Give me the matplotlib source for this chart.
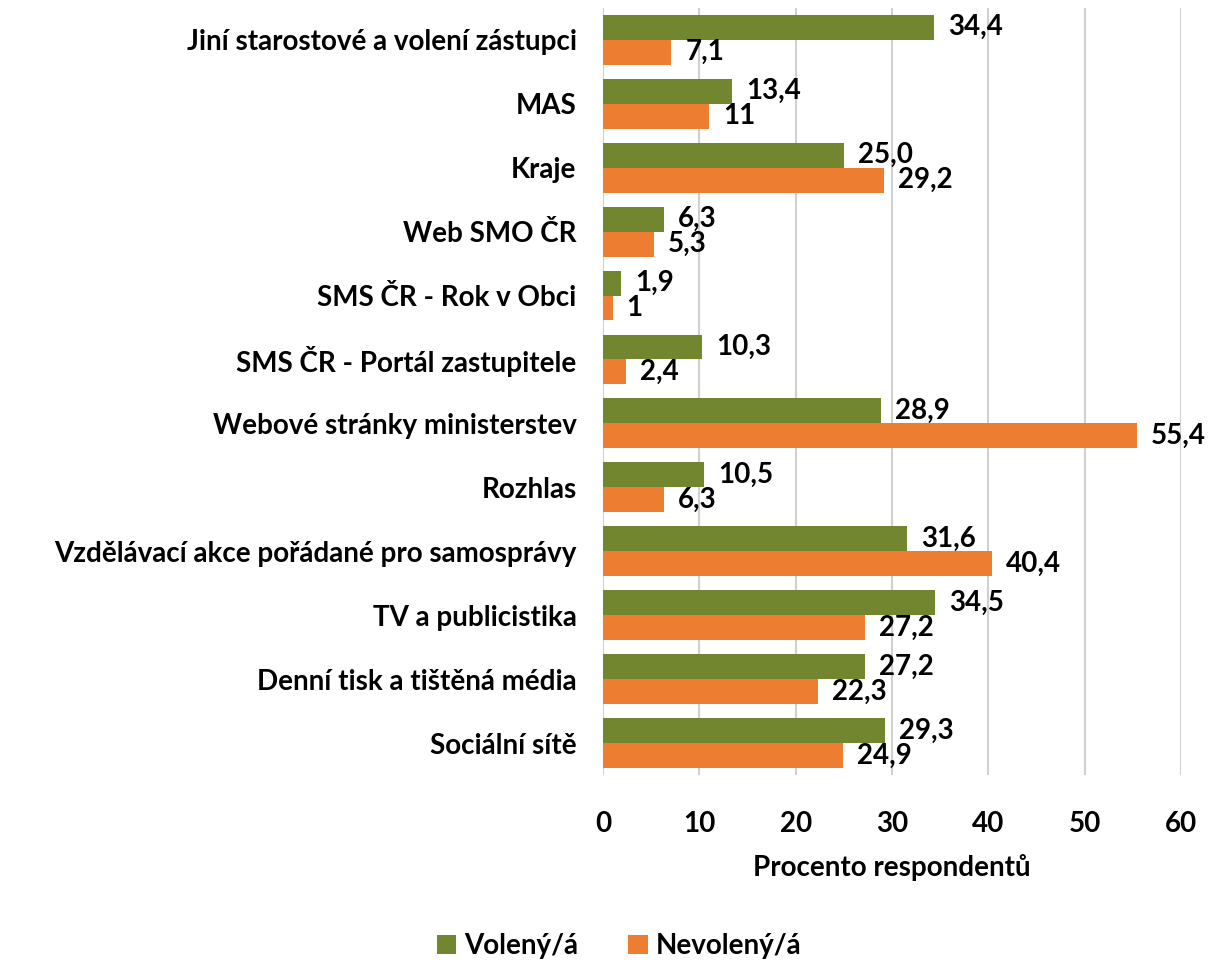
import matplotlib.pyplot as plt
import numpy as np

categories = ["Jiní starostové a volení zástupci", "MAS", "Kraje", "Web SMO ČR",
              "SMS ČR - Rok v Obci", "SMS ČR - Portál zastupitele",
              "Webové stránky ministerstev", "Rozhlas",
              "Vzdělávací akce pořádané pro samosprávy", "TV a publicistika",
              "Denní tisk a tištěná média", "Sociální sítě"]
voleny = [34.4, 13.4, 25.0, 6.3, 1.9, 10.3, 28.9, 10.5, 31.6, 34.5, 27.2, 29.3]
nevoleny = [7.1, 11, 29.2, 5.3, 1, 2.4, 55.4, 6.3, 40.4, 27.2, 22.3, 24.9]
voleny_lbl = ["34,4", "13,4", "25,0", "6,3", "1,9", "10,3", "28,9", "10,5", "31,6", "34,5", "27,2", "29,3"]
nevoleny_lbl = ["7,1", "11", "29,2", "5,3", "1", "2,4", "55,4", "6,3", "40,4", "27,2", "22,3", "24,9"]

green = "#71862F"
orange = "#ED7D31"
plt.rcParams['font.family'] = ['Lato', 'DejaVu Sans']
fs = 20

fig = plt.figure(figsize=(12.14, 9.63), dpi=100)
ax = fig.add_axes([0.4967, 0.195, 0.4761, 0.797])

y = np.arange(len(categories))
h = 0.39
b1 = ax.barh(y - h / 2, voleny, height=h, color=green, label="Volený/á", zorder=3)
b2 = ax.barh(y + h / 2, nevoleny, height=h, color=orange, label="Nevolený/á", zorder=3)
ax.bar_label(b1, labels=voleny_lbl, padding=10, fontsize=fs, fontweight='bold')
ax.bar_label(b2, labels=nevoleny_lbl, padding=10, fontsize=fs, fontweight='bold')

ax.set_yticks(y)
ax.set_yticklabels(categories, fontsize=fs, fontweight='bold')
ax.set_ylim(len(categories) - 0.5, -0.5)
ax.set_xlim(0, 60)
ax.set_xticks(range(0, 61, 10))
ax.tick_params(axis='x', labelsize=fs, pad=26, length=0)
ax.tick_params(axis='y', length=0, pad=19)
for lbl in ax.get_xticklabels():
    lbl.set_fontweight('bold')
ax.xaxis.grid(True, color="#d0d0d0", linewidth=1.5, zorder=0)
for s in ax.spines.values():
    s.set_visible(False)
ax.set_xlabel("Procento respondentů", fontsize=fs, fontweight='bold', labelpad=12)

fig.legend(loc='lower center', bbox_to_anchor=(0.51, -0.022), ncol=2, frameon=False,
           prop={'size': fs, 'weight': 'bold'}, handlelength=0.7, handleheight=0.7,
           columnspacing=1.8, handletextpad=0.3)

fig.savefig("out.png")
